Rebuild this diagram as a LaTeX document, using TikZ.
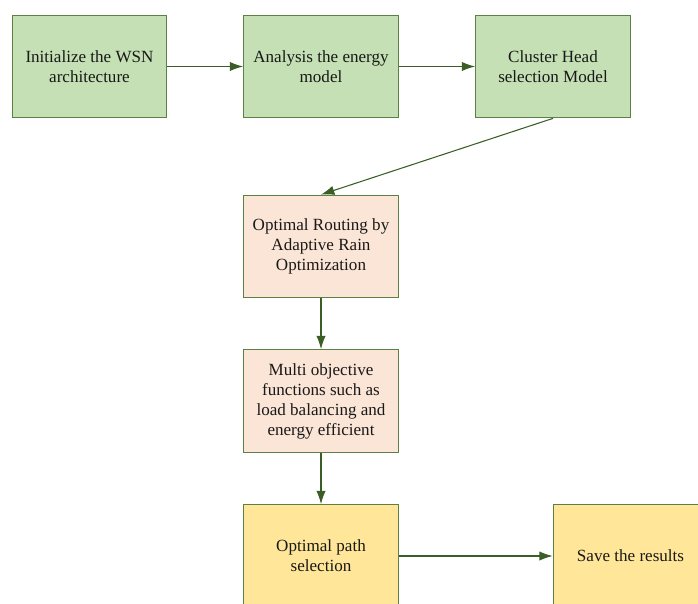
\documentclass[tikz,border=0pt]{standalone}
\usepackage{fontspec}
\setmainfont{Liberation Serif}
\usepackage{tikz}
\usetikzlibrary{shapes,arrows,arrows.meta}
\usetikzlibrary{positioning}

\definecolor{boxgreen}{HTML}{C5E0B4}
\definecolor{boxpeach}{HTML}{FBE5D6}
\definecolor{boxyellow}{HTML}{FFE699}
\definecolor{edgegreen}{HTML}{5B8144}
\definecolor{arrgreen}{HTML}{3B5E26}

\tikzset{
  stage/.style={draw=edgegreen,line width=0.8pt,minimum width=116pt,minimum height=77pt,
    align=center,text=black!90,font=\fontsize{12.8}{15}\selectfont,inner sep=2pt},
  flow/.style={draw=arrgreen,line width=0.8pt,-{Latex[length=10pt,width=7pt]}}
}

\begin{document}
\begin{tikzpicture}[x=0.75pt,y=-0.75pt]
			\useasboundingbox (0,0) rectangle (698,603);
			\clip (0,0) rectangle (698,603);
			% top row
			\node[stage,fill=boxgreen] (init) at (89.5,66.5) {Initialize the WSN\\architecture};
			\node[stage,fill=boxgreen] (energy) at (321,66.5) {Analysis the energy\\model};
			\node[stage,fill=boxgreen] (chead) at (553,66.5) {Cluster Head\\selection Model};
			% middle
			\node[stage,fill=boxpeach] (routing) at (321,246.5) {Optimal Routing by\\Adaptive Rain\\Optimization};
			\node[stage,fill=boxpeach] (multi) at (321,401) {Multi objective\\functions such as\\load balancing and\\energy efficient};
			% bottom row
			\node[stage,fill=boxyellow] (path) at (321,556) {Optimal path\\selection};
			\node[stage,fill=boxyellow] (save) at (630.5,556) {Save the results};
			\draw[flow] (init) -- (energy);
			\draw[flow] (energy) -- (chead);
			\draw[flow] (chead.south) -- (routing.north);
			\draw[flow] (routing) -- (multi);
			\draw[flow] (multi) -- (path);
			\draw[flow] (path) -- (save);
			\end{tikzpicture}
\end{document}
